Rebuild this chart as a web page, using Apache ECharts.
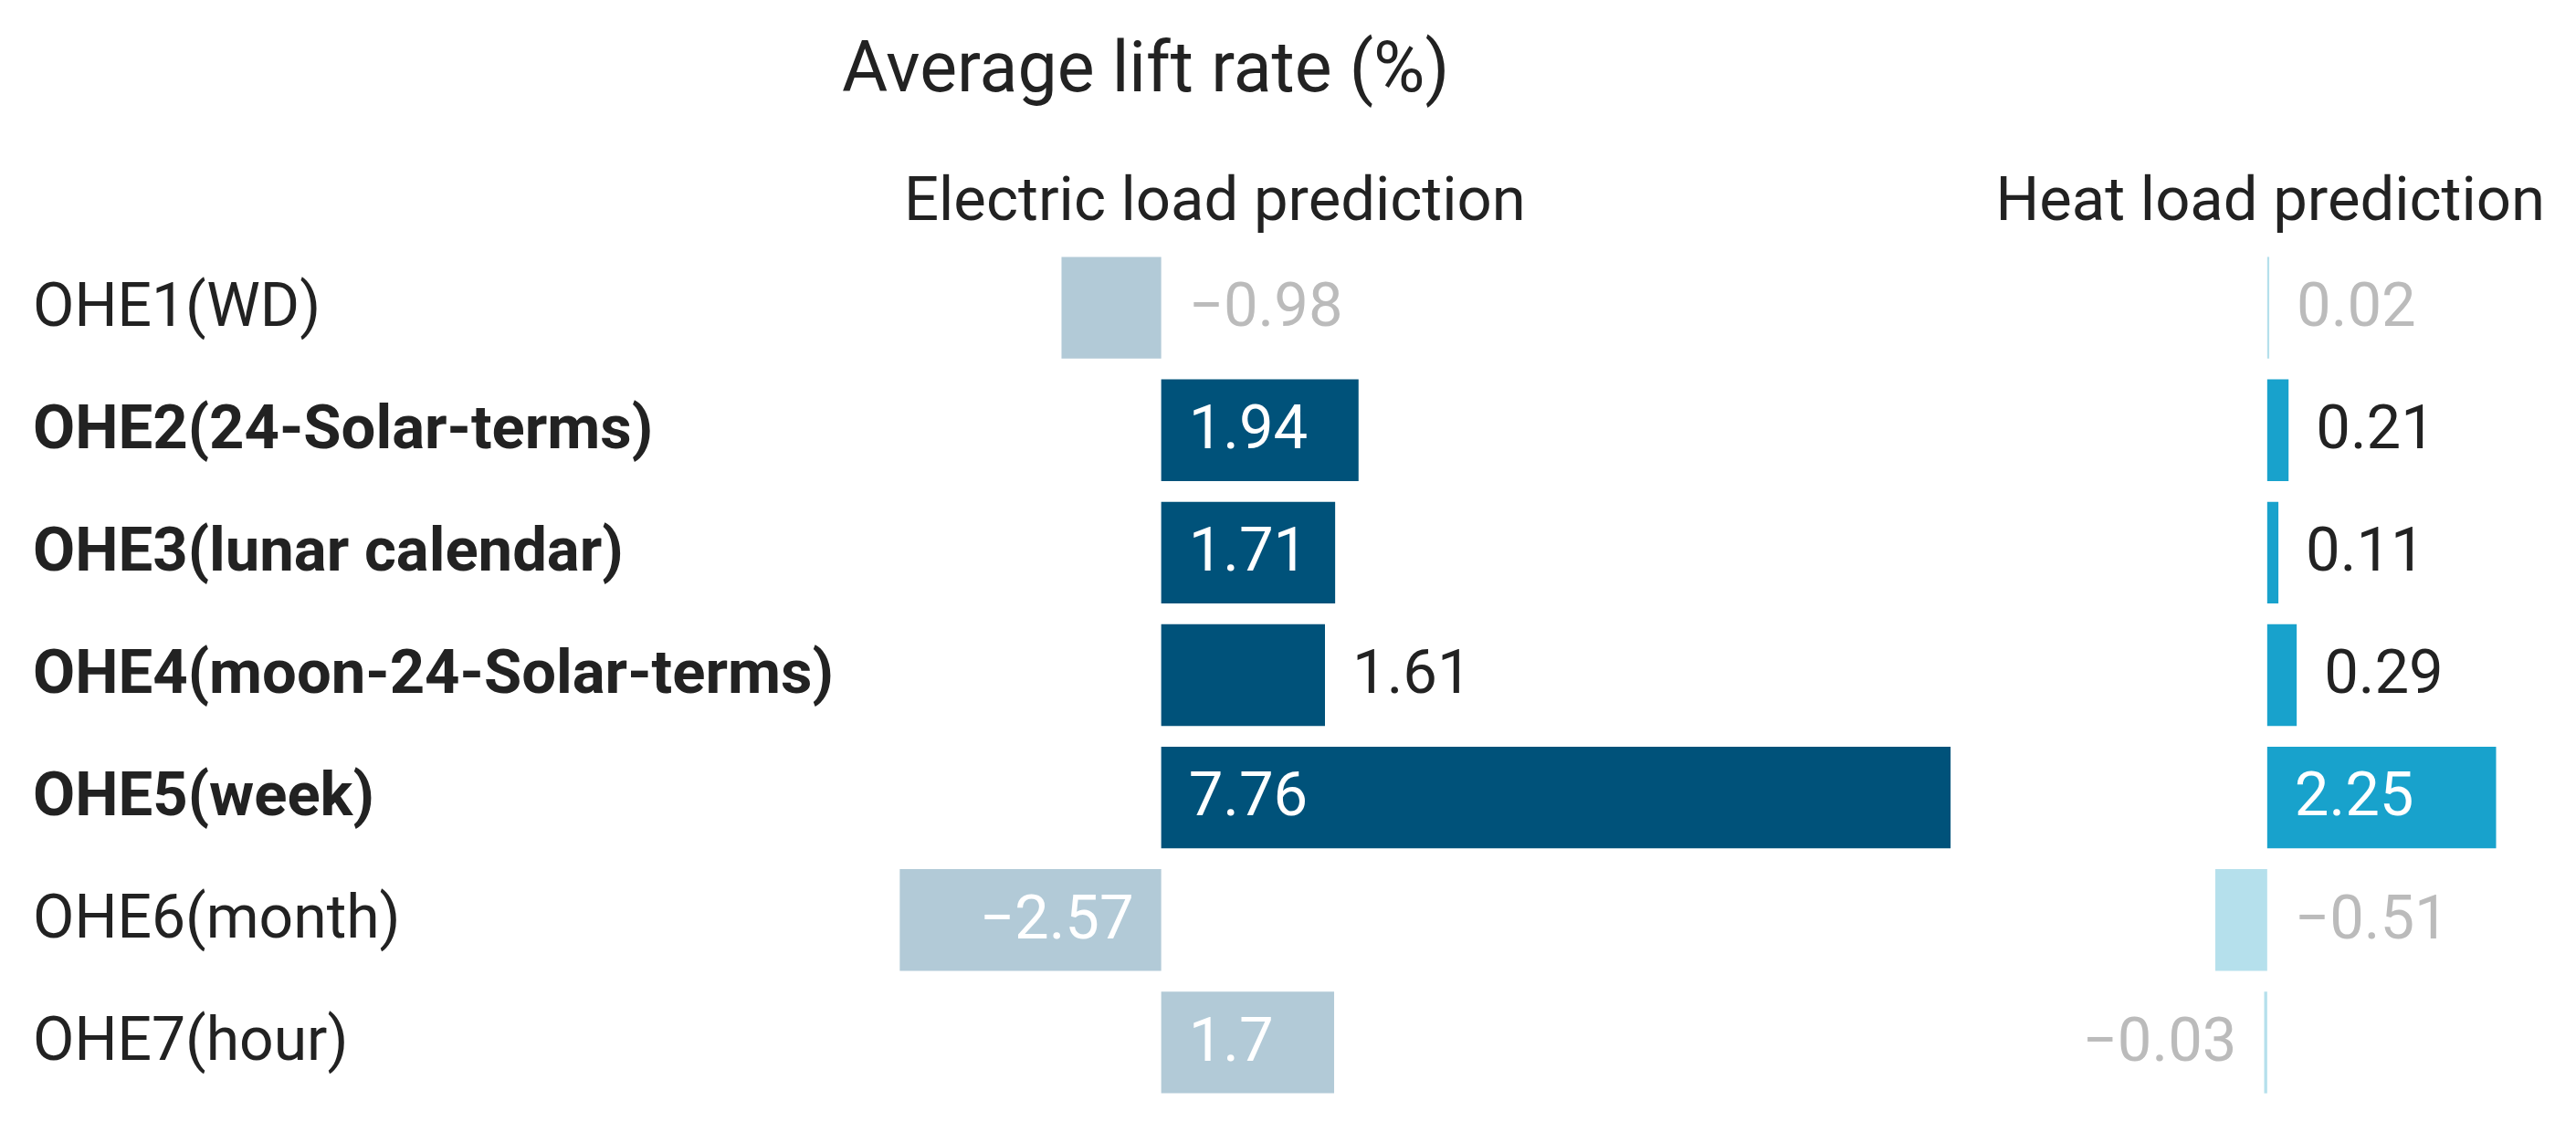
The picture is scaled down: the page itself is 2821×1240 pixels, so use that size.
<!DOCTYPE html>
<html>
<head>
<meta charset="utf-8">
<script src="https://cdn.jsdelivr.net/npm/echarts@6/dist/echarts.min.js"></script>
<style>
html,body{margin:0;padding:0;background:#fff;}
#chart{width:2821px;height:1240px;}
</style>
</head>
<body>
<div id="chart"></div>
<script>
// ---- data ----
const categories = ['OHE1(WD)', 'OHE2(24-Solar-terms)', 'OHE3(lunar calendar)', 'OHE4(moon-24-Solar-terms)', 'OHE5(week)', 'OHE6(month)', 'OHE7(hour)'];
const electricValues = [-0.98, 1.94, 1.71, 1.61, 7.76, -2.57, 1.7];
const heatValues = [0.02, 0.21, 0.11, 0.29, 2.25, -0.51, -0.03];
const highlightedRows = [1, 2, 3, 4];
const titleText = 'Average lift rate (%)';
const electricTitle = 'Electric load prediction';
const heatTitle = 'Heat load prediction';

// ---- label placement (layout, kept apart from values) ----
const electricLabelPlacement = ['right', 'insideLeft', 'insideLeft', 'right', 'insideLeft', 'insideRight', 'insideLeft'];
const heatLabelPlacement = ['right', 'right', 'right', 'right', 'insideLeft', 'right', 'left'];

const FONT = 'Roboto';
const DARK = '#00527A', LIGHT = '#B2CAD7';
const HEAT_DARK = '#18A2CC', HEAT_LIGHT = '#B5E0EC';
const GREY_TEXT = '#BBBBBB', TEXT = '#222222';

function fmt(v) {
  const s = String(Math.abs(v));
  return v < 0 ? '\u2212' + s : s;
}

function buildData(values, placement, dark, light) {
  return values.map((v, i) => {
    const hi = highlightedRows.indexOf(i) >= 0;
    const pos = placement[i];
    const inside = pos.indexOf('inside') === 0;
    let color;
    if (inside) color = '#ffffff';
    else if (v < 0 || !hi) color = GREY_TEXT;
    else color = TEXT;
    return {
      value: v,
      itemStyle: { color: hi ? dark : light },
      label: { show: true, position: pos, distance: 30, color: color, offset: [0, 3] }
    };
  });
}

const chart = echarts.init(document.getElementById('chart'), null, { renderer: 'canvas' });

const gridTop = 270, gridHeight = 939;
const pxPerUnit = 111.4;
const eMin = -2.6, eMax = 7.8;
const hMin = -0.6, hMax = 2.4;
const eLeft = 982, hLeft = 2416;

const option = {
  animation: false,
  backgroundColor: '#ffffff',
  textStyle: { fontFamily: FONT },
  title: [
    { text: titleText, left: 917, top: 37, textStyle: { fontFamily: FONT, fontSize: 77, fontWeight: 'normal', color: TEXT } },
    { text: electricTitle, left: 985, top: 186, textStyle: { fontFamily: FONT, fontSize: 67, fontWeight: 'normal', color: TEXT } },
    { text: heatTitle, right: 29, top: 186, textStyle: { fontFamily: FONT, fontSize: 67, fontWeight: 'normal', color: TEXT } }
  ],
  grid: [
    { left: eLeft, top: gridTop, width: (eMax - eMin) * pxPerUnit, height: gridHeight },
    { left: hLeft, top: gridTop, width: (hMax - hMin) * pxPerUnit, height: gridHeight }
  ],
  xAxis: [
    { type: 'value', gridIndex: 0, min: eMin, max: eMax, show: false, splitLine: { show: false } },
    { type: 'value', gridIndex: 1, min: hMin, max: hMax, show: false, splitLine: { show: false } }
  ],
  yAxis: [
    {
      type: 'category', gridIndex: 0, data: categories, inverse: true,
      axisLine: { show: false }, axisTick: { show: false }, splitLine: { show: false },
      axisLabel: {
        show: true, align: 'left', margin: eLeft - 36,
        formatter: (val, idx) => highlightedRows.indexOf(idx) >= 0 ? '{b|' + val + '}' : '{n|' + val + '}',
        rich: {
          b: { fontFamily: FONT, fontSize: 67, fontWeight: 'bold', color: TEXT, padding: [6, 0, 0, 0] },
          n: { fontFamily: FONT, fontSize: 66, fontWeight: 'normal', color: TEXT, padding: [6, 0, 0, 0] }
        }
      }
    },
    {
      type: 'category', gridIndex: 1, data: categories, inverse: true,
      axisLine: { show: false }, axisTick: { show: false }, axisLabel: { show: false }, splitLine: { show: false }
    }
  ],
  series: [
    {
      type: 'bar', xAxisIndex: 0, yAxisIndex: 0, barCategoryGap: '17%',
      data: buildData(electricValues, electricLabelPlacement, DARK, LIGHT),
      label: { fontFamily: FONT, fontSize: 67, formatter: p => fmt(p.value) }
    },
    {
      type: 'bar', xAxisIndex: 1, yAxisIndex: 1, barCategoryGap: '17%',
      data: buildData(heatValues, heatLabelPlacement, HEAT_DARK, HEAT_LIGHT),
      label: { fontFamily: FONT, fontSize: 67, formatter: p => fmt(p.value) }
    }
  ]
};
chart.setOption(option);
</script>
</body>
</html>
